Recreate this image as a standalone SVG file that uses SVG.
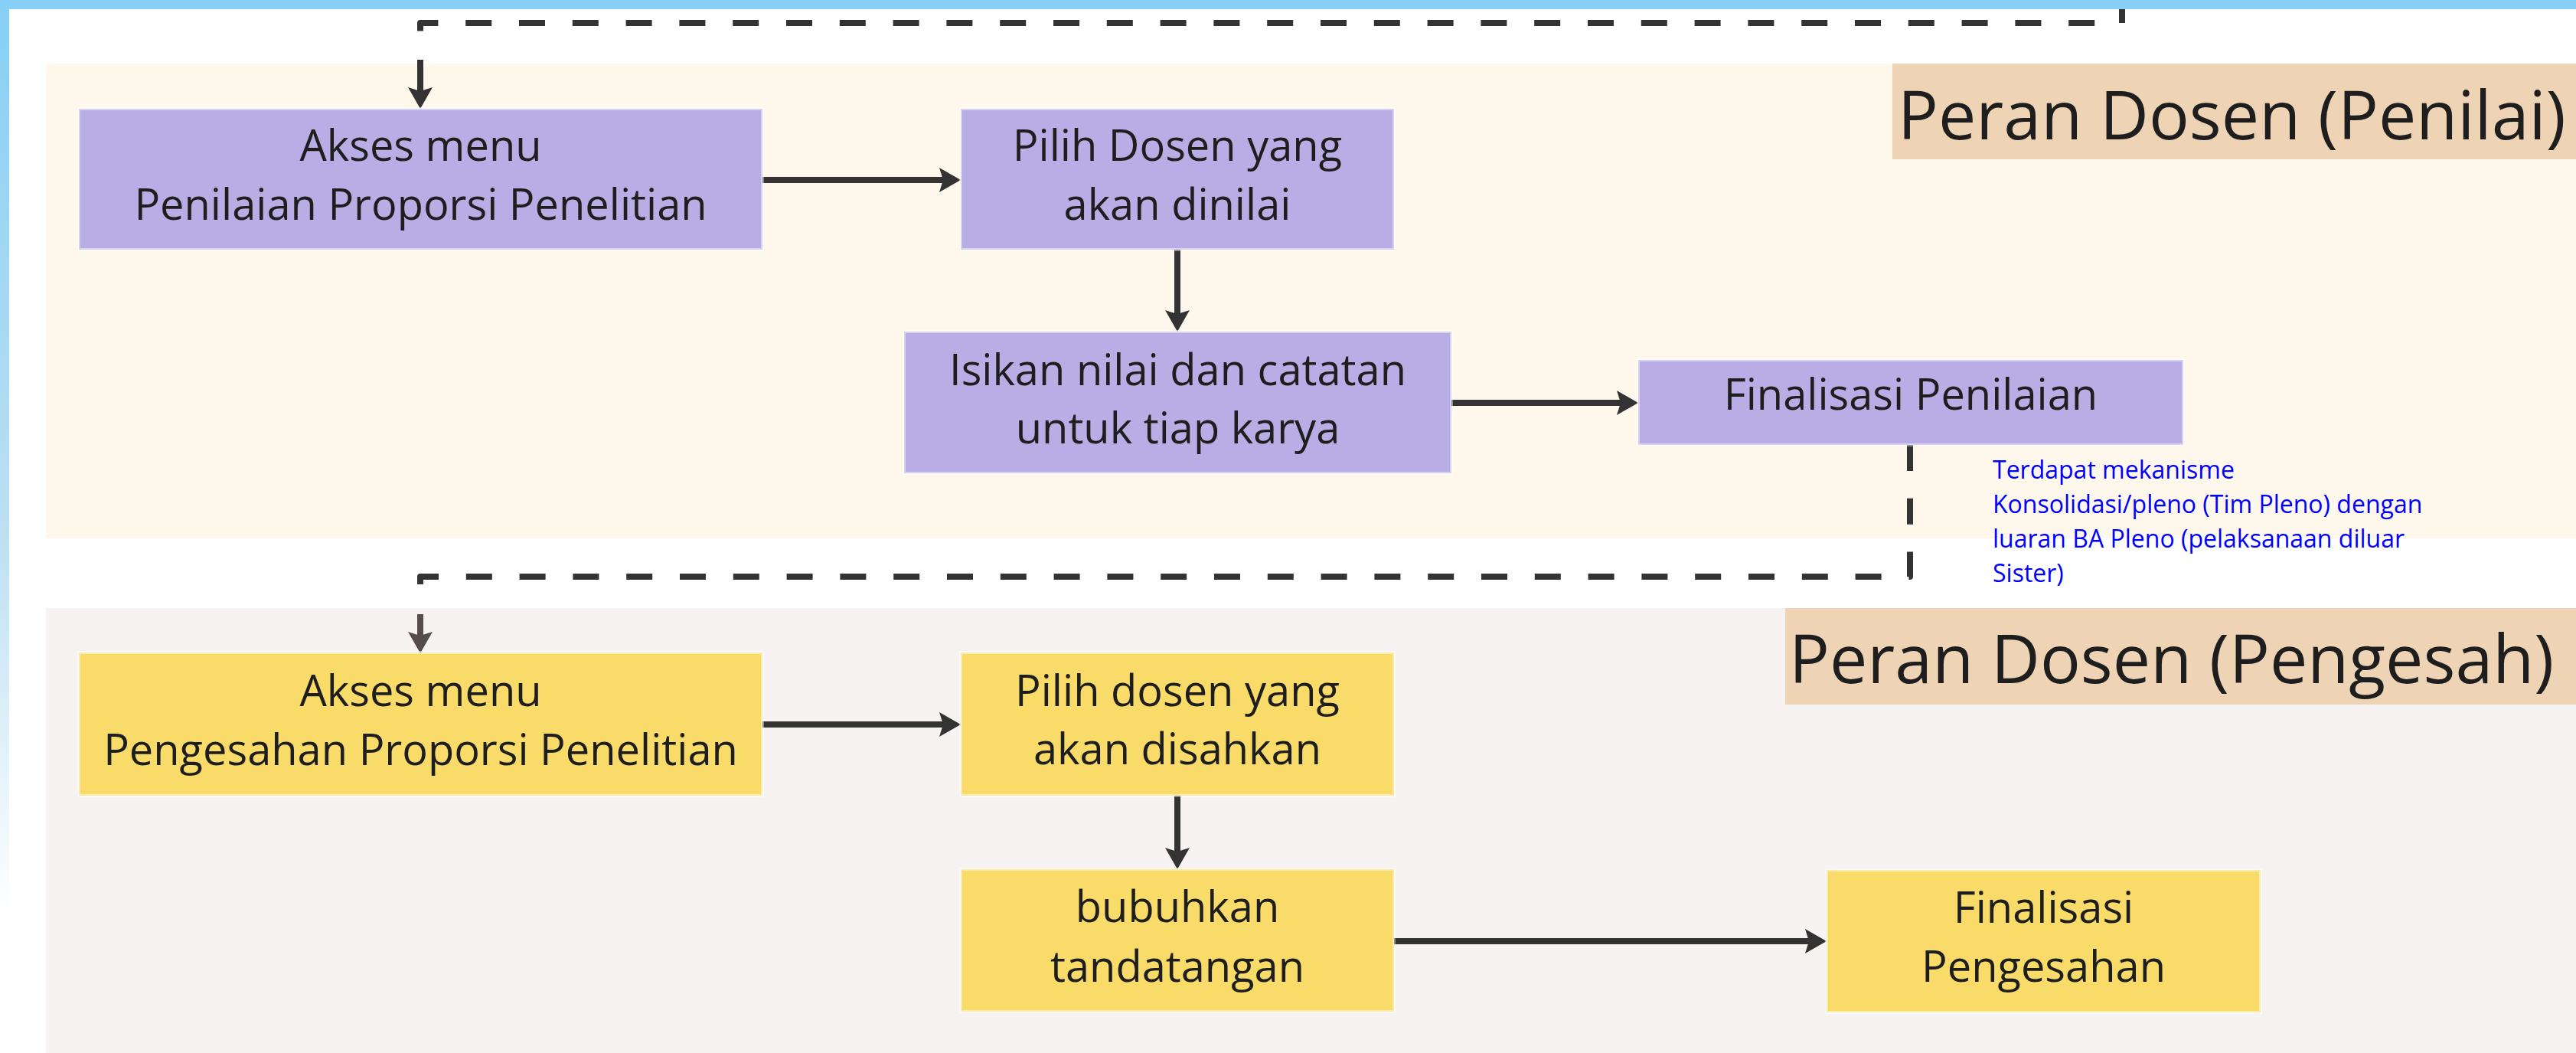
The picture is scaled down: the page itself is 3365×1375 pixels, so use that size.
<svg xmlns="http://www.w3.org/2000/svg" width="3365" height="1375" viewBox="0 0 3365 1375">
  <style>
    .lbl { font-family: "Open Sans", "Noto Sans", "Liberation Sans", sans-serif; fill: #1e1e1e; }
    .node-text { font-size: 56px; text-anchor: middle; }
    .title { font-size: 88px; }
    .note { font-family: "Open Sans", "Noto Sans", "Liberation Sans", sans-serif; font-size: 32px; fill: #0000ff; }
    .purple { fill: #b8aee5; stroke: #ffffff; stroke-opacity: 0.45; stroke-width: 4; }
    .yellow { fill: #f9db6a; stroke: #ffffff; stroke-opacity: 0.45; stroke-width: 4; }
    .solid { stroke: #333333; stroke-width: 8; fill: none; }
    .dash { stroke: #333333; stroke-width: 8; fill: none; stroke-dasharray: 34 35.8; stroke-linejoin: round; }
  </style>
  <defs>
    <linearGradient id="sidebar" x1="0" y1="0" x2="0" y2="1">
      <stop offset="0" stop-color="#87cff6"/>
      <stop offset="0.5" stop-color="#bcdff2"/>
      <stop offset="0.87" stop-color="#ffffff"/>
    </linearGradient>
    <marker id="arr" markerUnits="userSpaceOnUse" markerWidth="30" markerHeight="34" refX="6" refY="16" orient="auto">
      <path d="M0,0 L28,16 L0,32 L5,16 Z" fill="#333333"/>
    </marker>
    <marker id="arr2" markerUnits="userSpaceOnUse" markerWidth="30" markerHeight="34" refX="6" refY="16" orient="auto">
      <path d="M0,0 L28,16 L0,32 L5,16 Z" fill="#564c4d"/>
    </marker>
  </defs>

  <rect x="0" y="0" width="3365" height="1375" fill="#ffffff"/>
  <rect x="0" y="0" width="3365" height="12" fill="#87cff6"/>
  <rect x="0" y="0" width="12" height="1375" fill="url(#sidebar)"/>

  <g id="lane-penilai">
    <rect x="60" y="83" width="3305" height="620" fill="#fef8ec"/>
    <rect x="2472" y="83" width="893" height="125" fill="#efd3b5"/>
    <text class="lbl title" x="2479" y="182">Peran Dosen (Penilai)</text>
  </g>
  <g id="lane-pengesah">
    <rect x="60" y="794" width="3305" height="581" fill="#f7f3f2"/>
    <rect x="2332" y="794" width="1033" height="126" fill="#efd3b5"/>
    <text class="lbl title" x="2337" y="892">Peran Dosen (Pengesah)</text>
  </g>

  <g id="connectors">
    <path class="dash" d="M2772,12 V30 H549 V44" stroke-dashoffset="16"/>
    <line class="solid" x1="549" y1="78" x2="549" y2="120" marker-end="url(#arr)"/>
    <line class="solid" x1="996" y1="235" x2="1233" y2="235" marker-end="url(#arr)"/>
    <line class="solid" x1="1538" y1="326" x2="1538" y2="411" marker-end="url(#arr)"/>
    <line class="solid" x1="1896" y1="526" x2="2118" y2="526" marker-end="url(#arr)"/>
    <path class="dash" d="M2495,581 V753 H549 V768"/>
    <line x1="549" y1="802" x2="549" y2="831" stroke="#564c4d" stroke-width="8" marker-end="url(#arr2)"/>
    <line class="solid" x1="996" y1="946" x2="1233" y2="946" marker-end="url(#arr)"/>
    <line class="solid" x1="1538" y1="1039" x2="1538" y2="1113" marker-end="url(#arr)"/>
    <line class="solid" x1="1821" y1="1229" x2="2364" y2="1229" marker-end="url(#arr)"/>
  </g>

  <g id="n1">
    <rect class="purple" x="103" y="142" width="893" height="184"/>
    <text class="lbl node-text" x="549.5" y="210">Akses menu</text>
    <text class="lbl node-text" x="549.5" y="287">Penilaian Proporsi Penelitian</text>
  </g>
  <g id="n2">
    <rect class="purple" x="1255" y="142" width="566" height="184"/>
    <text class="lbl node-text" x="1538" y="210">Pilih Dosen yang</text>
    <text class="lbl node-text" x="1538" y="287">akan dinilai</text>
  </g>
  <g id="n3">
    <rect class="purple" x="1181" y="433" width="715" height="185"/>
    <text class="lbl node-text" x="1538.5" y="503">Isikan nilai dan catatan</text>
    <text class="lbl node-text" x="1538.5" y="579">untuk tiap karya</text>
  </g>
  <g id="n4">
    <rect class="purple" x="2140" y="470" width="712" height="111"/>
    <text class="lbl node-text" x="2496" y="535">Finalisasi Penilaian</text>
  </g>
  <g id="note">
    <text class="note" x="2603" y="625">Terdapat mekanisme</text>
    <text class="note" x="2603" y="670">Konsolidasi/pleno (Tim Pleno) dengan</text>
    <text class="note" x="2603" y="715">luaran BA Pleno (pelaksanaan diluar</text>
    <text class="note" x="2603" y="760">Sister)</text>
  </g>
  <g id="n5">
    <rect class="yellow" x="103" y="852" width="893" height="187"/>
    <text class="lbl node-text" x="549.5" y="922">Akses menu</text>
    <text class="lbl node-text" x="549.5" y="999">Pengesahan Proporsi Penelitian</text>
  </g>
  <g id="n6">
    <rect class="yellow" x="1255" y="852" width="566" height="187"/>
    <text class="lbl node-text" x="1538" y="922">Pilih dosen yang</text>
    <text class="lbl node-text" x="1538" y="998">akan disahkan</text>
  </g>
  <g id="n7">
    <rect class="yellow" x="1255" y="1135" width="566" height="186"/>
    <text class="lbl node-text" x="1538" y="1204">bubuhkan</text>
    <text class="lbl node-text" x="1538" y="1282">tandatangan</text>
  </g>
  <g id="n8">
    <rect class="yellow" x="2386" y="1136" width="567" height="186"/>
    <text class="lbl node-text" x="2669.5" y="1205">Finalisasi</text>
    <text class="lbl node-text" x="2669.5" y="1282">Pengesahan</text>
  </g>
</svg>
